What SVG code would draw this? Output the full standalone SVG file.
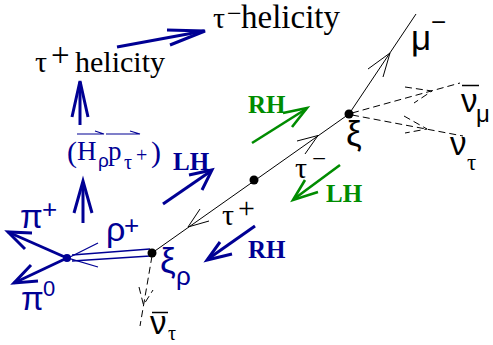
<svg xmlns="http://www.w3.org/2000/svg" width="493" height="345" viewBox="0 0 493 345">
<style>
.ser{font-family:"Liberation Serif","Times New Roman",serif}
.san{font-family:"Liberation Sans",Arial,sans-serif}
.blk{fill:#000}
.blu{fill:#000094}
.grn{fill:#008c00}
.bold{font-weight:bold}
.thin{stroke:#000;stroke-width:1;fill:none}
.dash{stroke:#000;stroke-width:1;fill:none;stroke-dasharray:7 4}
.bthick{stroke:#000094;stroke-width:3;fill:none}
.bmed{stroke:#000094;stroke-width:1.3;fill:none}
.gthick{stroke:#008c00;stroke-width:2.6;fill:none}
</style>
<g id="connectors">
  <line class="thin" x1="152" y1="253" x2="349" y2="114"/>
  <line class="thin" x1="349" y1="114" x2="416" y2="14"/>
  <polyline class="thin" points="368,69 390,53 383,77"/>
  <polyline class="thin" points="297,141 318,135.5 305,154"/>
  <polyline class="thin" points="209,221 188,227 200,209"/>
  <line class="dash" x1="352" y1="113" x2="460" y2="83"/>
  <polyline class="dash" points="405,87 432,91 414,103"/>
  <line class="dash" x1="352" y1="115" x2="463" y2="136"/>
  <polyline class="dash" points="404,116 427,129 405,133"/>
  <line class="dash" x1="152" y1="256" x2="140" y2="326"/>
  <polyline class="dash" points="139,287 143.5,305 153,290"/>
  <line class="bmed" x1="72" y1="255" x2="150" y2="249"/>
  <line class="bmed" x1="72" y1="261" x2="150" y2="256"/>
  <polyline class="bmed" points="98,243 68,258 98,267"/>
  <line class="bthick" x1="67" y1="258" x2="8" y2="232"/>
  <polyline class="bthick" points="32,233 8,232 25,249"/>
  <line class="bthick" x1="67" y1="258" x2="14" y2="283"/>
  <polyline class="bthick" points="31,265 14,283 38,281"/>
  <line class="bthick" x1="80" y1="125" x2="80" y2="82"/>
  <polyline class="bthick" points="72,117 80,81 88,117"/>
  <line class="bthick" x1="83" y1="223" x2="83" y2="182"/>
  <polyline class="bthick" points="74,213 83,181 92,213"/>
  <line class="bthick" x1="117" y1="47" x2="204" y2="31"/>
  <polyline class="bthick" points="167,30 205,31 170,45"/>
  <line class="bthick" x1="163" y1="204" x2="211" y2="171"/>
  <polyline class="bthick" points="189,175 212,170 202,190"/>
  <line class="bthick" x1="255" y1="226" x2="208" y2="259"/>
  <polyline class="bthick" points="220,242 207,260 232,254"/>
  <line class="gthick" x1="252" y1="143" x2="306" y2="109"/>
  <polyline class="gthick" points="283,113 307,108 292,127"/>
  <line class="gthick" x1="340" y1="165" x2="294" y2="199"/>
  <polyline class="gthick" points="305,180 293,200 318,192"/>
</g>
<g id="vertex-xi">
  <circle cx="349" cy="114" r="4.5" fill="#000"/>
  <text class="san blk" x="346" y="146" font-size="35">ξ</text>
</g>
<g id="vertex-mid">
  <circle cx="254" cy="180" r="4.5" fill="#000"/>
</g>
<g id="vertex-xirho">
  <circle cx="152" cy="253" r="4.5" fill="#000"/>
  <text class="san blu" x="160" y="273" font-size="35">ξ</text>
  <text class="san blu" x="176" y="285" font-size="26">ρ</text>
</g>
<g id="vertex-pi">
  <circle cx="67" cy="258" r="4" fill="#000094"/>
</g>
<g id="label-mu">
  <text class="san blk" x="411" y="50" font-size="35">μ</text>
  <text class="san blk" x="431" y="31" font-size="26">−</text>
</g>
<g id="label-numubar">
  <text class="san blk" x="461" y="112" font-size="33">ν</text>
  <line x1="462" y1="85.5" x2="479" y2="85.5" stroke="#000" stroke-width="1.5"/>
  <text class="san blk" x="476" y="122" font-size="24">μ</text>
</g>
<g id="label-nutau">
  <text class="san blk" x="450" y="155" font-size="33">ν</text>
  <text class="ser blk" x="467" y="170" font-size="23">τ</text>
</g>
<g id="label-nutaubar">
  <text class="san blk" x="150" y="334" font-size="33">ν</text>
  <line x1="152" y1="312.5" x2="168" y2="312.5" stroke="#000" stroke-width="1.5"/>
  <text class="ser blk" x="168" y="340" font-size="20">τ</text>
</g>
<g id="label-tauminus">
  <text class="ser blk" x="295" y="178" font-size="30">τ</text>
  <text class="ser blk" x="312" y="167" font-size="25">−</text>
</g>
<g id="label-tauplus">
  <text class="ser blk" x="222" y="225" font-size="30">τ</text>
  <text class="ser blk" x="238" y="218" font-size="30">+</text>
</g>
<g id="label-helicity-plus">
  <text class="ser blk" x="35" y="72" font-size="30">τ</text>
  <text class="ser blk" x="51" y="66" font-size="33">+</text>
  <text class="ser blk" x="75" y="72" font-size="30">helicity</text>
</g>
<g id="label-helicity-minus">
  <text class="ser blk" x="213" y="28" font-size="30">τ</text>
  <text class="ser blk" x="227" y="22" font-size="26">−</text>
  <text class="ser blk" x="241" y="28" font-size="33">helicity</text>
</g>
<g id="label-RH-green"><text class="ser grn bold" x="248" y="113" font-size="25">RH</text></g>
<g id="label-LH-green"><text class="ser grn bold" x="326" y="202" font-size="25">LH</text></g>
<g id="label-LH-blue"><text class="ser blu bold" x="173" y="170" font-size="25">LH</text></g>
<g id="label-RH-blue"><text class="ser blu bold" x="248" y="258" font-size="25">RH</text></g>
<g id="label-piplus">
  <text class="san blu" x="20" y="228" font-size="33">π</text>
  <text class="san blu" x="42" y="218" font-size="26">+</text>
</g>
<g id="label-pizero">
  <text class="san blu" x="21" y="310" font-size="33">π</text>
  <text class="san blu" x="43" y="296" font-size="22">0</text>
</g>
<g id="label-rhoplus">
  <text class="san blu" x="106" y="241" font-size="34">ρ</text>
  <text class="san blu" x="124" y="234" font-size="26">+</text>
</g>
<g id="label-Hp">
  <text class="ser blu" x="67" y="162" font-size="30">(</text>
  <text class="ser blu" x="77" y="160" font-size="27">H</text>
  <text class="san blu" x="98" y="167" font-size="19">ρ</text>
  <text class="ser blu" x="108" y="160" font-size="27">p</text>
  <text class="ser blu" x="124" y="169" font-size="20">τ</text>
  <text class="ser blu" x="136" y="162" font-size="20">+</text>
  <text class="ser blu" x="151" y="162" font-size="30">)</text>
  <polyline points="77,134 104,134 95,131" fill="none" stroke="#000094" stroke-width="1.1"/>
  <polyline points="106,134 140,134 130,131" fill="none" stroke="#000094" stroke-width="1.1"/>
</g>
</svg>
